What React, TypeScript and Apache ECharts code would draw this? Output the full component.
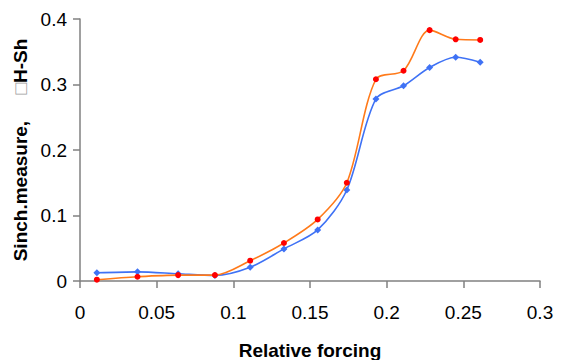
import React, { useEffect, useRef } from "react";
import * as echarts from "echarts";

const xValues = [0.011, 0.0375, 0.064, 0.088, 0.111, 0.133, 0.155, 0.174, 0.193, 0.211, 0.228, 0.245, 0.261];
const seriesRed = [0.002, 0.0065, 0.009, 0.009, 0.031, 0.058, 0.094, 0.150, 0.308, 0.321, 0.383, 0.369, 0.368];
const seriesBlue = [0.0125, 0.014, 0.011, 0.0085, 0.021, 0.049, 0.078, 0.139, 0.278, 0.298, 0.326, 0.3415, 0.334];

export default function App() {
  const ref = useRef<HTMLDivElement>(null);
  useEffect(() => {
    const chart = echarts.init(ref.current!, null, { renderer: "svg" });
    const font = "'Liberation Sans', Arial, sans-serif";
    chart.setOption({
      animation: false,
      grid: { left: 80, right: 21, top: 19, bottom: 79, containLabel: false, outerBoundsMode: "none" },
      xAxis: {
        type: "value",
        min: 0,
        max: 0.3,
        interval: 0.05,
        name: "Relative forcing",
        nameLocation: "middle",
        nameGap: 60,
        nameTextStyle: { fontFamily: font, fontSize: 19, fontWeight: "bold", color: "#000" },
        axisLine: { show: true, lineStyle: { color: "#808080", width: 1.5 } },
        axisTick: { show: true, inside: false, length: 7, lineStyle: { color: "#808080", width: 1.5 } },
        axisLabel: { fontFamily: font, fontSize: 19, color: "#000", margin: 22 },
        splitLine: { show: false },
      },
      yAxis: {
        type: "value",
        min: 0,
        max: 0.4,
        interval: 0.1,
        name: "{b|Sinch.measure,}     {x|\u25A1}{n|H-Sh}",
        nameLocation: "middle",
        nameGap: 48,
        nameTextStyle: {
          fontFamily: font,
          color: "#000",
          fontSize: 19,
          rich: {
            b: { fontFamily: font, fontSize: 19, fontWeight: "bold", color: "#000" },
            x: { fontFamily: font, fontSize: 19, fontWeight: "normal", color: "#9a9a9a" },
            n: { fontFamily: font, fontSize: 19, fontWeight: "bold", color: "#000" },
          },
        },
        axisLine: { show: true, lineStyle: { color: "#808080", width: 1.5 } },
        axisTick: { show: true, inside: false, length: 7, lineStyle: { color: "#808080", width: 1.5 } },
        axisLabel: { fontFamily: font, fontSize: 19, color: "#000", margin: 13 },
        splitLine: { show: false },
      },
      series: [
        {
          type: "line",
          data: xValues.map((x, i) => [x, seriesBlue[i]]),
          smooth: 0.3,
          symbol: "diamond",
          symbolSize: 7,
          lineStyle: { color: "#3F72F5", width: 1.6 },
          itemStyle: { color: "#3F72F5" },
          z: 2,
        },
        {
          type: "line",
          data: xValues.map((x, i) => [x, seriesRed[i]]),
          smooth: 0.3,
          symbol: "circle",
          symbolSize: 6,
          lineStyle: { color: "#FF7A1A", width: 1.6 },
          itemStyle: { color: "#FF0000" },
          z: 3,
        },
      ],
    });
    return () => chart.dispose();
  }, []);
  return <div ref={ref} style={{ width: 561, height: 360, position: "absolute", left: 0, top: 0, background: "#fff" }} />;
}
